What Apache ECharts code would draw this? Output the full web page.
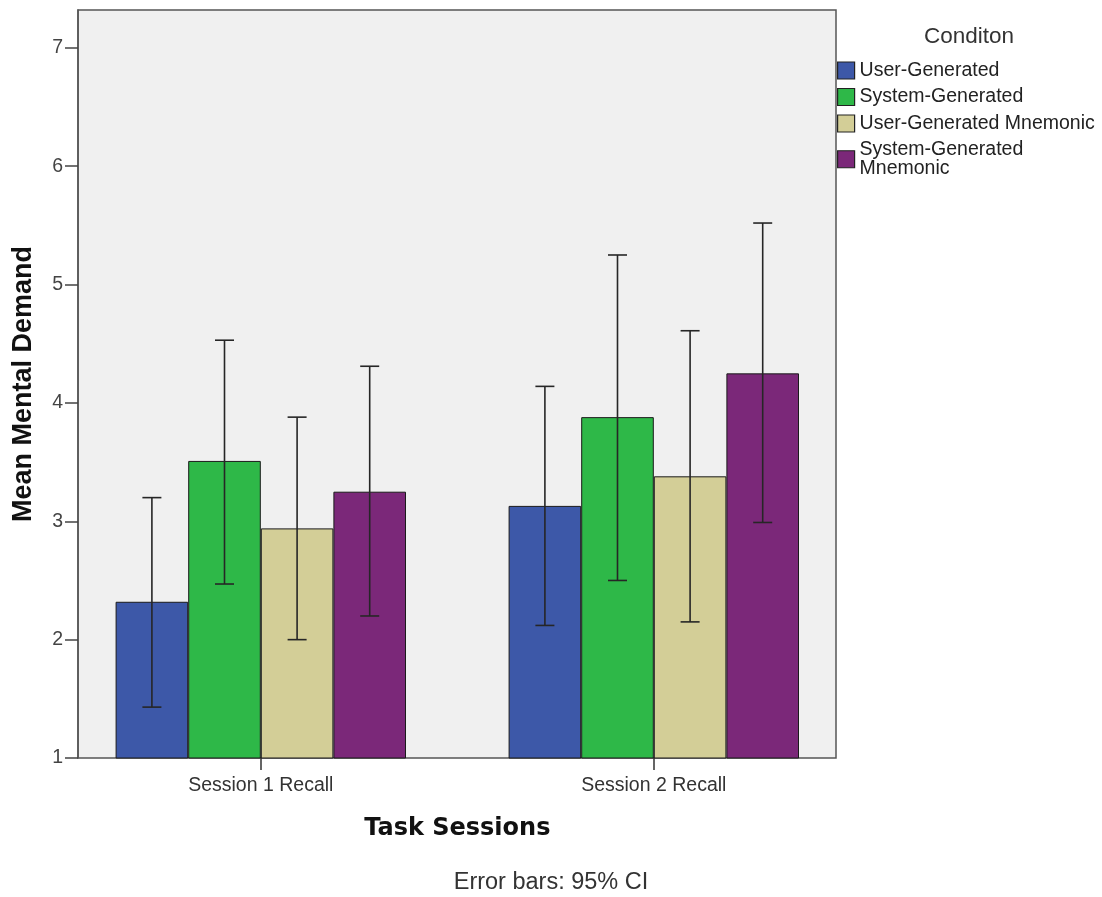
<!DOCTYPE html>
<html>
<head>
<meta charset="utf-8">
<script src="https://cdn.jsdelivr.net/npm/echarts@6/dist/echarts.min.js"></script>
<style>
html,body{margin:0;padding:0;background:#fff;}
#chart{width:1102px;height:897px;}
</style>
</head>
<body>
<div id="chart"></div>
<script>
const categories = ['Session 1 Recall', 'Session 2 Recall'];
const seriesNames = ['User-Generated', 'System-Generated', 'User-Generated Mnemonic', 'System-Generated Mnemonic'];
const colors = ['#3D58A8', '#2EB848', '#D3CE97', '#7B2879'];
const meanUser = [2.32, 3.13];
const meanSystem = [3.51, 3.88];
const meanUserMn = [2.94, 3.38];
const meanSystemMn = [3.25, 4.25];
const lowUser = [1.43, 2.12];
const highUser = [3.20, 4.14];
const lowSystem = [2.47, 2.50];
const highSystem = [4.53, 5.25];
const lowUserMn = [2.00, 2.15];
const highUserMn = [3.88, 4.61];
const lowSystemMn = [2.20, 2.99];
const highSystemMn = [4.31, 5.52];
const yTicks = [1, 2, 3, 4, 5, 6, 7];

const means = [meanUser, meanSystem, meanUserMn, meanSystemMn];
const lows = [lowUser, lowSystem, lowUserMn, lowSystemMn];
const highs = [highUser, highSystem, highUserMn, highSystemMn];

const BAR_W = 72.6;
const Y_MIN = 1, Y_MAX = 7.32;
const FONT = '"Liberation Sans", Arial, sans-serif';

const chart = echarts.init(document.getElementById('chart'));

const barSeries = seriesNames.map((name, i) => ({
  name: name,
  type: 'bar',
  xAxisIndex: 1,
  yAxisIndex: 1,
  barWidth: BAR_W,
  barGap: '0%',
  data: means[i],
  itemStyle: { color: colors[i], borderColor: '#1a1a1a', borderWidth: 1 },
  emphasis: { disabled: true },
  z: 2
}));

const errData = [];
for (let s = 0; s < 4; s++) {
  for (let c = 0; c < categories.length; c++) {
    errData.push([c, lows[s][c], highs[s][c], s]);
  }
}

const errSeries = {
  type: 'custom',
  xAxisIndex: 1,
  yAxisIndex: 1,
  data: errData,
  z: 5,
  silent: true,
  renderItem: function (params, api) {
    const ci = api.value(0);
    const k = api.value(3);
    const lo = api.coord([ci, api.value(1)]);
    const hi = api.coord([ci, api.value(2)]);
    const x = lo[0] + (k - 1.5) * BAR_W;
    const half = 9.5;
    const st = { stroke: '#262626', lineWidth: 1.6 };
    return {
      type: 'group',
      children: [
        { type: 'line', shape: { x1: x, y1: lo[1], x2: x, y2: hi[1] }, style: st },
        { type: 'line', shape: { x1: x - half, y1: hi[1], x2: x + half, y2: hi[1] }, style: st },
        { type: 'line', shape: { x1: x - half, y1: lo[1], x2: x + half, y2: lo[1] }, style: st }
      ]
    };
  }
};

const option = {
  animation: false,
  backgroundColor: '#ffffff',
  title: [
    {
      text: 'Conditon',
      left: 924, top: 25, padding: 0,
      textStyle: { fontFamily: FONT, fontSize: 22.5, fontWeight: 'normal', color: '#333' }
    },
    {
      text: 'Error bars: 95% CI',
      left: 'center', top: 871, padding: 0,
      textStyle: { fontFamily: FONT, fontSize: 23.5, fontWeight: 'normal', color: '#333' }
    }
  ],
  legend: {
    data: seriesNames,
    orient: 'vertical',
    left: 837, top: 60.5, padding: 0,
    itemWidth: 17, itemHeight: 17, itemGap: 6.5,
    icon: 'rect',
    selectedMode: false,
    itemStyle: { borderColor: '#222', borderWidth: 1.2 },
    formatter: function (n) { return n === 'System-Generated Mnemonic' ? 'System-Generated\nMnemonic' : n; },
    textStyle: { fontFamily: FONT, fontSize: 19.5, color: '#222', lineHeight: 18.5 }
  },
  grid: [
    { left: 78, top: 10, width: 758, height: 748, show: true, backgroundColor: '#F0F0F0', borderColor: '#555', borderWidth: 1.5, outerBoundsMode: 'none' },
    { left: 64.3, top: 10, width: 786, height: 748, show: false, outerBoundsMode: 'none' }
  ],
  xAxis: [
    { type: 'category', gridIndex: 0, data: categories, show: false },
    {
      type: 'category', gridIndex: 1, data: categories,
      name: 'Task Sessions', nameLocation: 'middle', nameGap: 59,
      nameTextStyle: { fontFamily: '"DejaVu Sans", sans-serif', fontSize: 24, fontWeight: 'bold', color: '#111' },
      axisLine: { show: false },
      axisTick: { show: true, alignWithLabel: true, length: 12, lineStyle: { color: '#333', width: 1.5 } },
      axisLabel: { fontFamily: FONT, fontSize: 19.5, color: '#333', margin: 18 },
      splitLine: { show: false }
    }
  ],
  yAxis: [
    {
      type: 'value', gridIndex: 0, min: Y_MIN, max: Y_MAX,
      name: 'Mean Mental Demand', nameLocation: 'middle', nameGap: 41, nameRotate: 90,
      nameTextStyle: { fontFamily: FONT, fontSize: 27, fontWeight: 'bold', color: '#111' },
      axisLine: { show: true, lineStyle: { color: '#555', width: 1.5 } },
      axisTick: { show: true, length: 13, customValues: yTicks, lineStyle: { color: '#444', width: 1.5 } },
      axisLabel: { customValues: yTicks, fontFamily: FONT, fontSize: 19.5, color: '#444', margin: 15 },
      splitLine: { show: false }
    },
    { type: 'value', gridIndex: 1, min: Y_MIN, max: Y_MAX, show: false, splitLine: { show: false } }
  ],
  series: barSeries.concat([errSeries])
};

chart.setOption(option);
</script>
</body>
</html>
